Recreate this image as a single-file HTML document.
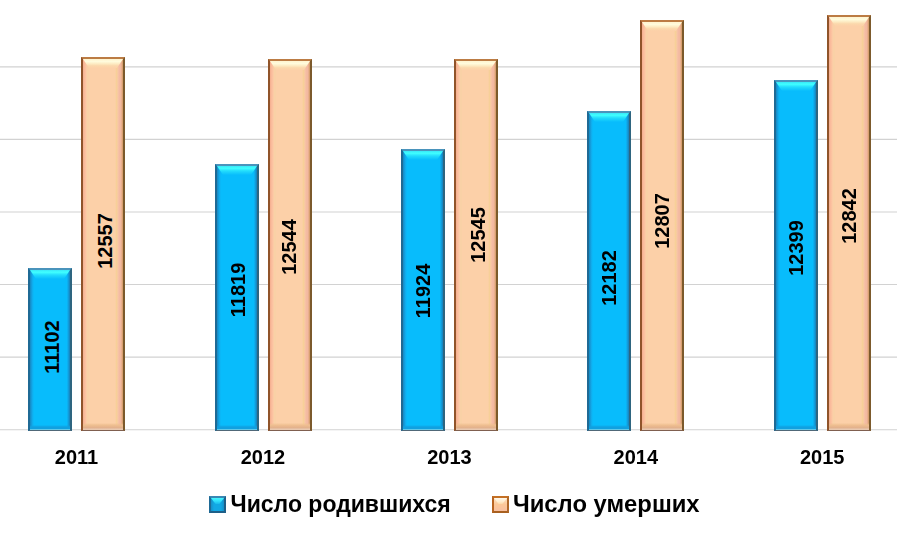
<!DOCTYPE html>
<html><head><meta charset="utf-8"><style>
html,body{margin:0;padding:0;background:#fff;}
body{width:897px;height:535px;position:relative;overflow:hidden;font-family:"Liberation Sans",sans-serif;}
.gs{position:absolute;left:0;top:0;} .gs line{stroke:#d2d2d2;stroke-width:1.1;}
.bar{position:absolute;width:44px;box-sizing:border-box;border-style:solid;border-width:2px 2px 1px 2px;}
.bar.b{background:linear-gradient(90deg,#1788c0 0,#1498d8 1.2px,#10aeee 2.6px,#08bcfc 4px,#08bcfc 36.5px,#10a8e8 38px,#1490cc 39px,#1a80b8 40px);border-color:#4a94bc #2e6580 #506878 #1f6a95;}
.bar.o{background:linear-gradient(90deg,#f4ae8e 0,#fabb9c 1.5px,#fcc6a2 3px,#fcd0a8 4px,#f6d2a4 5px,#fcd0a8 6px,#fcd0a8 32px,#f7d098 33.5px,#f8c8a4 35px,#f5bca5 36px,#f2b89e 38px,#d8a070 39.5px);border-color:#bc7c44 #7c5a2c #806050 #90542a;}
.bar i{position:absolute;left:0;right:0;top:0;clip-path:polygon(0 0,100% 0,calc(100% - 6px) 100%,6px 100%);}
.bar.b i{height:9px;background:linear-gradient(#38e8f8,#40ffff 25%,#22dcfc 55%,#08bcfc);}
.bar.o i{height:9px;background:linear-gradient(#fff4d0,#fffbdc 28%,#fdecc4 52%,#fbd8ac 75%,#fcd0a8);}
.bar b{position:absolute;left:0;right:0;bottom:0;height:5px;}
.bar.b b{background:linear-gradient(rgba(16,150,220,0),#10a0e0 40%,#10a0e0 75%,#60c8e8 80%);}
.bar.o b{height:7px;background:linear-gradient(rgba(240,192,144,0),#efbf90 30%,#e2b08c 70%,#e8c8b0 86%);}
.vl{position:absolute;width:0;height:0;display:flex;align-items:center;justify-content:center;transform:rotate(-90deg);font-weight:bold;font-size:20px;color:#000;white-space:nowrap;line-height:1;}
.yr{position:absolute;top:446px;width:80px;text-align:center;font-weight:bold;font-size:20px;color:#000;}
.lg{position:absolute;top:491px;font-weight:bold;font-size:23px;color:#000;white-space:nowrap;transform-origin:0 50%;}
.mk{position:absolute;width:17px;height:17px;box-sizing:border-box;border:2px solid;}
.mk i{position:absolute;left:0;right:0;top:0;height:6px;clip-path:polygon(0 0,100% 0,65% 100%,35% 100%);}
.mb{border-color:#3a88b4 #1e5f88 #1e5f88 #1e6a96;background:linear-gradient(90deg,#1590c8,#12a8e4 3px,#12a8e4 10px,#1590c8 13px);}
.mb i{background:linear-gradient(#48f8ff,#30e0fc 50%,#18b8ec);}
.mo{border-color:#c47024 #b06828 #a86020 #b86420;background:linear-gradient(#fde0c0,#fcc898 50%,#f8c0a0);}
.mo i{background:linear-gradient(#fff8ec,#ffeccc 60%,#fcd8a8);}
#w{position:absolute;left:0;top:0;width:897px;height:535px;filter:blur(0.35px);}
</style></head><body><div id="w">
<svg class="gs" width="897" height="535" viewBox="0 0 897 535"><line x1="0" x2="897" y1="66.85" y2="66.85"/><line x1="0" x2="897" y1="139.42" y2="139.42"/><line x1="0" x2="897" y1="212.00" y2="212.00"/><line x1="0" x2="897" y1="284.57" y2="284.57"/><line x1="0" x2="897" y1="357.15" y2="357.15"/><line x1="0" x2="897" y1="429.72" y2="429.72"/></svg><div class="bar b" style="left:28.0px;top:268.0px;height:163.0px"><i></i><b></b></div><span class="vl" style="left:51.5px;top:346.5px">11102</span><div class="bar o" style="left:81.0px;top:57.0px;height:374.0px"><i></i><b></b></div><span class="vl" style="left:104.8px;top:241.0px">12557</span><div class="yr" style="left:36.5px">2011</div><div class="bar b" style="left:215.0px;top:164.0px;height:267.0px"><i></i><b></b></div><span class="vl" style="left:237.8px;top:289.6px">11819</span><div class="bar o" style="left:268.0px;top:59.0px;height:372.0px"><i></i><b></b></div><span class="vl" style="left:288.8px;top:246.6px">12544</span><div class="yr" style="left:222.9px">2012</div><div class="bar b" style="left:401.0px;top:149.0px;height:282.0px"><i></i><b></b></div><span class="vl" style="left:423.0px;top:291.1px">11924</span><div class="bar o" style="left:454.0px;top:59.0px;height:372.0px"><i></i><b></b></div><span class="vl" style="left:477.9px;top:234.6px">12545</span><div class="yr" style="left:409.4px">2013</div><div class="bar b" style="left:587.0px;top:111.0px;height:320.0px"><i></i><b></b></div><span class="vl" style="left:609.3px;top:277.6px">12182</span><div class="bar o" style="left:640.0px;top:20.0px;height:411.0px"><i></i><b></b></div><span class="vl" style="left:662.0px;top:221.3px">12807</span><div class="yr" style="left:595.8px">2014</div><div class="bar b" style="left:774.0px;top:80.0px;height:351.0px"><i></i><b></b></div><span class="vl" style="left:795.8px;top:248.2px">12399</span><div class="bar o" style="left:827.0px;top:15.0px;height:416.0px"><i></i><b></b></div><span class="vl" style="left:848.8px;top:215.5px">12842</span><div class="yr" style="left:782.2px">2015</div>
<div class="mk mb" style="left:209px;top:496px"><i></i></div>
<div class="lg" style="left:230.5px">Число родившихся</div>
<div class="mk mo" style="left:492px;top:496px"><i></i></div>
<div class="lg" style="left:512.5px;transform:scaleX(1.035)">Число умерших</div>
</div></body></html>
